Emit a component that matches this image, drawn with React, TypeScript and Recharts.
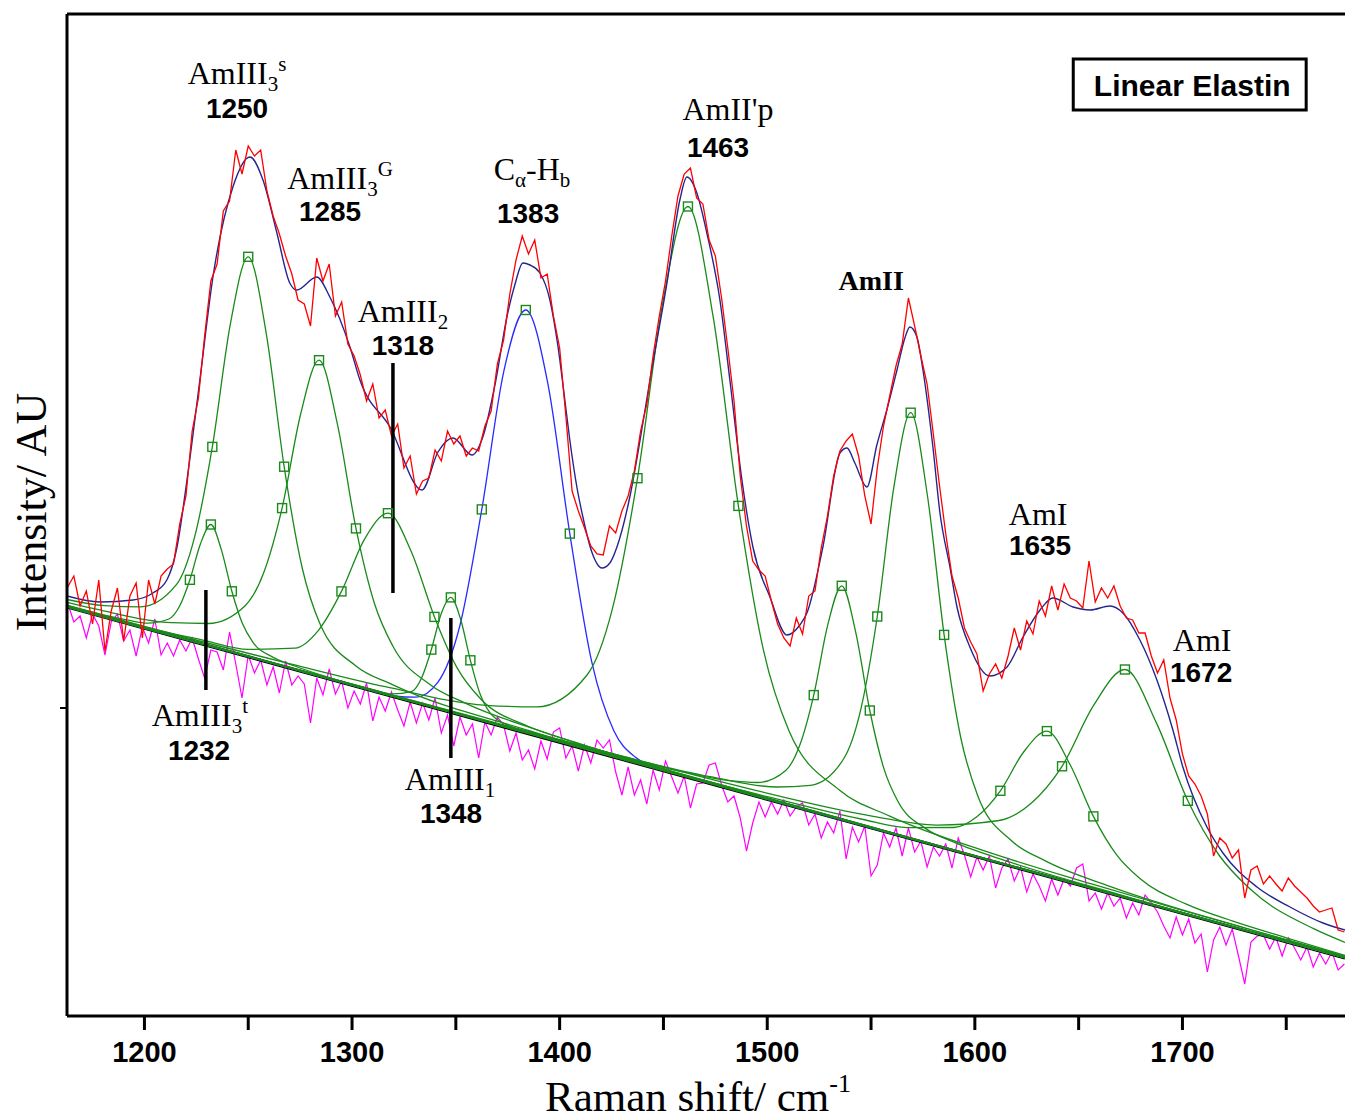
import React from 'react';
import {
  ComposedChart,
  Line,
  Scatter,
  XAxis,
  YAxis,
  ReferenceLine,
  ReferenceDot,
  ReferenceArea,
} from 'recharts';

// ---------- axes ----------
const X_DOMAIN: [number, number] = [1162.7, 1778.3];
const Y_DOMAIN: [number, number] = [0, 1002];
const X_TICKS = [1200, 1250, 1300, 1350, 1400, 1450, 1500, 1550, 1600, 1650, 1700, 1750];
const Y_TICKS = [308];

// ---------- series (x = Raman shift cm-1, y = intensity AU) ----------
const baseline = [[1162.7, 409], [1778.3, 58]];

const comp1232 = [[1162.7,410.3],[1191.6,396.1],[1201.7,392.9],[1211.8,397],[1216.9,409.7],[1221.9,436.2],[1227,472.3],[1232,491.5],[1237,466.6],[1242.1,424.7],[1247.2,392.4],[1252.2,373.9],[1262.3,358.4],[1272.4,350],[1312.8,324.3],[1400,273.8],[1500,216.6],[1600,159.6],[1700,102.7],[1778.3,58.1]];
const comp1250 = [[1162.7,416.5],[1180.8,410.4],[1198.1,409.2],[1215.4,431.3],[1224,477.6],[1232.7,569.1],[1241.4,692.1],[1250,759.2],[1258.7,682.2],[1267.3,549.3],[1276,448],[1284.6,391.9],[1301.9,350],[1319.2,331.6],[1388.4,283.4],[1500,217.5],[1600,160.2],[1700,103.1],[1778.3,58.3]];
const comp1285 = [[1162.7,413.7],[1177.3,406.6],[1212.9,393.3],[1230.7,392.5],[1248.5,410.3],[1257.4,443],[1266.3,507.9],[1275.2,601.5],[1284.1,655.8],[1293,591.4],[1301.9,487.6],[1310.8,412.5],[1319.7,369.7],[1337.5,331.6],[1355.3,312.2],[1390.9,284.9],[1500,218.2],[1600,160.4],[1700,103.2],[1778.3,58.4]];
const comp1318 = [[1162.7,410.5],[1200,388.9],[1227.7,376.2],[1250.1,366.6],[1272.5,367.8],[1283.7,385.4],[1294.9,424.6],[1306.1,477.2],[1317.3,502.8],[1328.5,464.5],[1339.7,399.1],[1350.9,347.1],[1362.1,316.7],[1384.5,290],[1406.9,274.1],[1500,217.8],[1600,160.2],[1700,103.1],[1778.3,58.3]];
const comp1348 = [[1162.7,409],[1200,387.7],[1250,359.3],[1272.4,346.8],[1310,326.4],[1319.4,322.1],[1328.8,324.7],[1333.5,338],[1338.2,366.4],[1342.9,402],[1347.6,418.6],[1352.3,396.7],[1357,355.7],[1361.7,321.9],[1366.4,303.3],[1375.8,290],[1385.2,283.6],[1422.8,261.1],[1500,216.8],[1600,159.7],[1700,102.7],[1778.3,58.1]];
const comp1383 = [[1162.7,409],[1200,387.7],[1250,359.2],[1300,330.7],[1310,325],[1320.1,320],[1330.7,318.8],[1341.3,333.6],[1351.9,390],[1362.5,506.6],[1373.1,644.7],[1383.7,706],[1394.3,632.6],[1404.9,482.4],[1415.5,353.8],[1426.1,285.2],[1436.7,258.4],[1447.3,247.5],[1458,241.5],[1470,234.6],[1500,216.7],[1600,159.7],[1700,102.7],[1778.3,58.1]];
const comp1463 = [[1162.7,410.9],[1200,389.5],[1267.4,353.7],[1316,329.3],[1364.6,310.7],[1388.9,309.1],[1413.2,341],[1425.4,407.1],[1437.5,537.8],[1449.7,713.6],[1461.8,809.5],[1473.9,699.8],[1486.1,510.1],[1498.2,365.6],[1510.4,285.6],[1534.7,226],[1559,199.9],[1607.6,163.1],[1656.2,132.1],[1700,105.5],[1778.3,59.8]];
const comp1535 = [[1162.7,409.2],[1250,359.4],[1350,302.5],[1400.9,274.6],[1454.9,246.2],[1481.9,235.3],[1495.4,233.5],[1508.9,245.5],[1515.65,270.7],[1522.4,320.9],[1529.15,391.1],[1535.9,430.2],[1542.65,383.4],[1549.4,305.5],[1556.15,247.6],[1562.9,214.7],[1576.4,187.4],[1589.9,173.8],[1616.9,153.9],[1670.9,120.7],[1720,91.6],[1778.3,58.5]];
const comp1569 = [[1162.7,409.4],[1250,359.6],[1350,302.7],[1408.1,271.6],[1472.5,239.3],[1504.7,229],[1520.8,230.7],[1536.9,257.5],[1544.95,305.6],[1553,399.5],[1561.05,529.7],[1569.1,603.3],[1577.15,520.5],[1585.2,381.1],[1593.25,278],[1601.3,220.8],[1617.4,175.7],[1633.5,155.6],[1665.7,129.2],[1730.1,88],[1778.3,59.6]];
const comp1635 = [[1162.7,409.2],[1250,359.4],[1350,302.4],[1430,257.2],[1500,219.4],[1545.1,197],[1567.5,188.4],[1589.9,188.5],[1601.1,199.5],[1612.3,225.2],[1623.5,264],[1634.7,284.9],[1645.9,251.2],[1657.1,199.6],[1668.3,161.1],[1679.5,137.4],[1701.9,111.8],[1724.3,94.8],[1750,78.2],[1778.3,60.5]];
const comp1672 = [[1162.7,409.7],[1250,360],[1369.3,293.2],[1430,259.8],[1490.5,227.6],[1551.1,199.7],[1581.4,190.9],[1611.7,195.5],[1626.85,212.3],[1642,249.7],[1657.15,310.4],[1672.3,346.5],[1687.45,293.1],[1702.6,215.2],[1717.75,160.5],[1732.9,126.4],[1763.2,87.3],[1778.3,73.6]];

const markers = [
  [1221.9,436.2],[1232,491.5],[1242.1,424.7],
  [1232.7,569.1],[1250,759.2],[1267.3,549.3],
  [1266.3,507.9],[1284.1,655.8],[1301.9,487.6],
  [1294.9,424.6],[1317.3,502.8],[1339.7,399.1],
  [1338.2,366.4],[1347.6,418.6],[1357,355.7],
  [1362.5,506.6],[1383.7,706],[1404.9,482.4],
  [1437.5,537.8],[1461.8,809.5],[1486.1,510.1],
  [1522.4,320.9],[1535.9,430.2],[1549.4,305.5],
  [1553,399.5],[1569.1,603.3],[1585.2,381.1],
  [1612.3,225.2],[1634.7,284.9],[1657.1,199.6],
  [1642,249.7],[1672.3,346.5],[1702.6,215.2],
];

const fitSum = [[1162.7,420],[1178.6,414],[1194.5,416],[1204.1,423],[1210.8,436],[1215.7,469],[1220.5,536],[1226.7,636],[1233,739],[1242.6,829],[1250.8,859],[1257.1,836],[1263.8,783],[1270,733],[1273.4,726],[1283,739],[1289.3,719],[1299,669],[1303.8,636],[1318.3,589],[1333.7,526],[1341.4,564],[1348.6,578],[1357.8,561],[1363,579],[1369.3,636],[1374.6,699],[1378.4,731],[1382.3,753],[1385.7,751],[1390.5,743],[1395.3,716],[1399.1,671],[1402.5,616],[1404.9,576],[1408.3,529],[1411.2,499],[1415.5,464],[1420.4,448],[1424.2,453],[1427.6,469],[1433.8,519],[1440.1,593],[1443.5,636],[1451.7,733],[1457.9,816],[1461.3,839],[1466.1,823],[1470.9,783],[1477.2,716],[1482,636],[1487.8,536],[1493.1,469],[1501.3,419],[1509.5,381],[1515.7,391],[1519.1,403],[1526.8,469],[1535,563],[1538.4,568],[1542.2,553],[1548,529],[1552.8,571],[1557.6,606],[1562.5,646],[1566.3,678],[1568.7,689],[1572.1,679],[1575,646],[1579.8,569],[1583.2,503],[1588,449],[1591.4,409],[1597.6,369],[1607.2,340],[1615.5,349],[1623.2,379],[1631.4,406],[1637.6,418],[1647.3,409],[1655.5,406],[1665.1,410],[1671.3,403],[1679.5,376],[1687.7,336],[1695.4,286],[1700.2,249],[1711.8,189],[1719.5,163],[1735.9,129],[1751.8,109],[1767.7,93],[1778.3,86]];

const measured = [[1163,429],[1166,440],[1169,410],[1172,425],[1175,392],[1178,436],[1181,365],[1184,405],[1187,428],[1190,375],[1193,420],[1196,433],[1199,378],[1202,436],[1205,412],[1208,440],[1211,447],[1214,452],[1217,492],[1220,520],[1223,585],[1226,618],[1229,680],[1232,735],[1235,752],[1238,805],[1241,815],[1244,866],[1247,842],[1250,870],[1253,860],[1256,866],[1259,825],[1262,800],[1265,782],[1268,760],[1271,742],[1274,716],[1277,712],[1280,690],[1283,758],[1286,735],[1289,752],[1292,700],[1295,714],[1298,672],[1301,660],[1304,641],[1307,615],[1310,632],[1313,598],[1316,606],[1319,580],[1322,592],[1325,548],[1328,560],[1331,522],[1334,535],[1337,538],[1340,566],[1343,555],[1346,585],[1349,572],[1352,580],[1355,560],[1358,568],[1361,565],[1364,590],[1367,605],[1370,652],[1373,676],[1376,722],[1379,756],[1382,780],[1385,762],[1388,776],[1391,738],[1394,742],[1397,700],[1400,668],[1403,600],[1406,525],[1409,505],[1412,488],[1415,470],[1418,462],[1421,461],[1424,490],[1427,483],[1430,505],[1433,520],[1436,545],[1439,585],[1442,612],[1445,660],[1448,700],[1451,735],[1454,780],[1457,820],[1460,842],[1463,848],[1466,818],[1469,812],[1472,776],[1475,760],[1478,718],[1481,668],[1484,615],[1487,540],[1490,490],[1493,455],[1496,446],[1499,440],[1502,415],[1505,392],[1508,378],[1511,370],[1514,398],[1517,382],[1520,420],[1523,425],[1526,468],[1529,500],[1532,540],[1535,565],[1538,575],[1541,582],[1544,560],[1547,520],[1550,492],[1553,548],[1556,590],[1559,620],[1562,650],[1565,672],[1568,718],[1571,690],[1574,660],[1577,632],[1580,582],[1583,530],[1586,482],[1589,440],[1592,418],[1595,388],[1598,374],[1601,362],[1604,325],[1607,342],[1610,352],[1613,338],[1616,360],[1619,388],[1622,366],[1625,395],[1628,382],[1631,415],[1634,400],[1637,430],[1640,406],[1643,432],[1646,418],[1649,415],[1652,408],[1655,455],[1658,414],[1661,428],[1664,418],[1667,430],[1670,410],[1673,398],[1676,396],[1679,383],[1682,383],[1685,360],[1688,343],[1691,356],[1694,318],[1697,296],[1700,262],[1703,240],[1706,232],[1709,220],[1712,202],[1715,160],[1718,178],[1721,172],[1724,158],[1727,166],[1730,118],[1733,146],[1736,150],[1739,132],[1742,140],[1745,132],[1748,125],[1751,138],[1754,130],[1757,124],[1760,118],[1763,110],[1766,104],[1769,106],[1772,108],[1775,86],[1778,84]];

const residual = [[1163,413],[1166,394],[1169,400],[1172,378],[1175,402],[1178,390],[1181,361],[1184,394],[1187,402],[1190,375],[1193,386],[1196,360],[1199,389],[1202,373],[1205,397],[1208,361],[1211,373],[1214,360],[1217,376],[1220,365],[1223,378],[1226,357],[1229,338],[1232,366],[1235,364],[1238,346],[1241,384],[1244,352],[1247,318],[1250,361],[1253,343],[1256,356],[1259,331],[1262,349],[1265,323],[1268,355],[1271,331],[1274,340],[1277,332],[1280,293],[1283,338],[1286,321],[1289,347],[1292,322],[1295,335],[1298,308],[1301,325],[1304,312],[1307,333],[1310,295],[1313,319],[1316,305],[1319,324],[1322,306],[1325,290],[1328,314],[1331,293],[1334,313],[1337,296],[1340,318],[1343,283],[1346,301],[1349,270],[1352,299],[1355,281],[1358,292],[1361,258],[1364,294],[1367,281],[1370,299],[1373,291],[1376,265],[1379,283],[1382,256],[1385,266],[1388,247],[1391,275],[1394,257],[1397,284],[1400,288],[1403,258],[1406,270],[1409,245],[1412,271],[1415,253],[1418,276],[1421,268],[1424,276],[1427,244],[1430,221],[1433,249],[1436,221],[1439,236],[1442,212],[1445,246],[1448,226],[1451,255],[1454,239],[1457,223],[1460,240],[1463,208],[1466,232],[1469,233],[1472,251],[1475,253],[1478,231],[1481,214],[1484,220],[1487,198],[1490,165],[1493,193],[1496,214],[1499,199],[1502,214],[1505,202],[1508,216],[1511,200],[1514,209],[1517,213],[1520,191],[1523,202],[1526,178],[1529,194],[1532,183],[1535,205],[1538,157],[1541,189],[1544,174],[1547,190],[1550,140],[1553,151],[1556,183],[1559,169],[1562,188],[1565,160],[1568,188],[1571,164],[1574,175],[1577,149],[1580,169],[1583,160],[1586,172],[1589,148],[1592,178],[1595,161],[1598,139],[1601,159],[1604,146],[1607,160],[1610,128],[1613,148],[1616,157],[1619,135],[1622,149],[1625,124],[1628,142],[1631,130],[1634,115],[1637,137],[1640,121],[1643,137],[1646,130],[1649,148],[1652,152],[1655,115],[1658,123],[1661,107],[1664,123],[1667,110],[1670,118],[1673,98],[1676,113],[1679,101],[1682,121],[1685,113],[1688,104],[1691,90],[1694,78],[1697,99],[1700,81],[1703,97],[1706,73],[1709,82],[1712,44],[1715,76],[1718,89],[1721,71],[1724,87],[1727,60],[1730,32],[1733,74],[1736,80],[1739,81],[1742,67],[1745,79],[1748,60],[1751,78],[1754,68],[1757,56],[1760,69],[1763,49],[1766,63],[1769,52],[1772,64],[1775,46],[1778,52]];

// peak marker bars: [x, yBottom, yTop]
const peakBars = [[1229.6, 326, 426], [1319.7, 423, 653], [1347.6, 258, 398]];

// annotation texts
type Part = [string, 'n' | 'sub' | 'sup'];
const nameLabels: { x: number; y: number; parts: Part[]; bold?: boolean; size?: number }[] = [
  { x: 1244.6, y: 932, parts: [['AmIII', 'n'], ['3', 'sub'], ['s', 'sup']] },
  { x: 1294.2, y: 827, parts: [['AmIII', 'n'], ['3', 'sub'], ['G', 'sup']] },
  { x: 1324.5, y: 694, parts: [['AmIII', 'n'], ['2', 'sub']] },
  { x: 1386.7, y: 836, parts: [['C', 'n'], ['α', 'sub'], ['-H', 'n'], ['b', 'sub']] },
  { x: 1481.1, y: 896, parts: [["AmII'p", 'n']] },
  { x: 1550.1, y: 726, parts: [['AmII', 'n']], bold: true, size: 28 },
  { x: 1630.5, y: 491, parts: [['AmI', 'n']] },
  { x: 1709.5, y: 365, parts: [['AmI', 'n']] },
  { x: 1226.7, y: 290, parts: [['AmIII', 'n'], ['3', 'sub'], ['t', 'sup']] },
  { x: 1347.2, y: 226, parts: [['AmIII', 'n'], ['1', 'sub']] },
];
const numberLabels: { x: number; y: number; text: string }[] = [
  { x: 1244.6, y: 898, text: '1250' },
  { x: 1289.4, y: 795, text: '1285' },
  { x: 1324.5, y: 661, text: '1318' },
  { x: 1384.8, y: 793, text: '1383' },
  { x: 1476.3, y: 859, text: '1463' },
  { x: 1631.4, y: 461, text: '1635' },
  { x: 1709.0, y: 334, text: '1672' },
  { x: 1226.3, y: 256, text: '1232' },
  { x: 1347.7, y: 193, text: '1348' },
];
const legendBox = { x1: 1647.4, x2: 1759.6, y1: 906, y2: 957, tx: 1704.7, ty: 920, text: 'Linear Elastin' };

// ---------- styles ----------
const SERIF = '"Liberation Serif", "Times New Roman", Times, serif';
const SANS = '"Liberation Sans", Arial, Helvetica, sans-serif';
const GREEN = '#1a8a1a';
const pts = (a: number[][]) => a.map(([x, y]) => ({ x, y }));

const greenComps = [comp1232, comp1250, comp1285, comp1318, comp1348, comp1463, comp1535, comp1569, comp1635, comp1672];

const renderName = (lab: (typeof nameLabels)[number]) => (p: any) => {
  const size = lab.size ?? 32;
  const offs = { n: 0, sub: 7, sup: -13 };
  let cur = 0;
  return (
    <text
      x={p.cx}
      y={p.cy}
      textAnchor="middle"
      fontFamily={SERIF}
      fontSize={size}
      fontWeight={lab.bold ? 700 : 400}
      fill="#000"
    >
      {lab.parts.map(([t, k], i) => {
        const dy = offs[k] - cur;
        cur = offs[k];
        return (
          <tspan key={i} dy={dy} fontSize={k === 'n' ? size : 21}>
            {t}
          </tspan>
        );
      })}
    </text>
  );
};

const renderNum = (text: string) => (p: any) => (
  <text x={p.cx} y={p.cy} textAnchor="middle" fontFamily={SANS} fontWeight={700} fontSize={28} fill="#000">
    {text}
  </text>
);

const renderBoxText = (text: string) => (p: any) => (
  <text x={p.cx} y={p.cy} textAnchor="middle" fontFamily={SANS} fontWeight={700} fontSize={30} fill="#000">
    {text}
  </text>
);

const square = (p: any) => (
  <rect x={p.cx - 4.5} y={p.cy - 4.5} width={9} height={9} fill="none" stroke={GREEN} strokeWidth={1.4} />
);

const XTitle = () => (
  <text x={545} y={1111} fontFamily={SERIF} fontSize={43} fill="#000">
    Raman shift/ cm
    <tspan dy={-19} fontSize={26}>-1</tspan>
  </text>
);

const YTitle = () => (
  <text
    x={46}
    y={512}
    transform="rotate(-90 46 512)"
    textAnchor="middle"
    fontFamily={SERIF}
    fontSize={44}
    fill="#000"
  >
    Intensity/ AU
  </text>
);

export default function App() {
  return (
    <div
      style={{
        position: 'absolute',
        left: 0,
        top: 0,
        width: 1345,
        height: 1119,
        background: '#fff',
        overflow: 'hidden',
      }}
    >
      <ComposedChart width={1345} height={1119} margin={{ top: 14, right: 0, bottom: 0, left: 0 }}>
        <XAxis
          type="number"
          dataKey="x"
          domain={X_DOMAIN}
          allowDataOverflow
          ticks={X_TICKS}
          interval={0}
          height={103}
          tickSize={14}
          tickMargin={11}
          axisLine={{ stroke: '#000', strokeWidth: 3 }}
          tickLine={{ stroke: '#000', strokeWidth: 3 }}
          tick={{ fontFamily: SANS, fontWeight: 700, fontSize: 29, fill: '#000' }}
          tickFormatter={(v: number) => (v % 100 === 0 ? String(v) : '')}
          label={{ content: XTitle }}
        />
        <YAxis
          type="number"
          dataKey="y"
          domain={Y_DOMAIN}
          allowDataOverflow
          ticks={Y_TICKS}
          width={67}
          tickSize={7}
          axisLine={{ stroke: '#000', strokeWidth: 3 }}
          tickLine={{ stroke: '#000', strokeWidth: 2 }}
          tickFormatter={() => ''}
          label={{ content: YTitle }}
        />

        <ReferenceLine y={1002} stroke="#000" strokeWidth={3} />

        <Line data={pts(residual)} dataKey="y" type="linear" stroke="#ff00ff" strokeWidth={1.2} dot={false} activeDot={false} isAnimationActive={false} />
        <Line data={pts(baseline)} dataKey="y" type="linear" stroke="#000" strokeWidth={3} dot={false} activeDot={false} isAnimationActive={false} />
        <Line data={pts(comp1383)} dataKey="y" type="monotone" stroke="#2a2aff" strokeWidth={1.3} dot={false} activeDot={false} isAnimationActive={false} />
        {greenComps.map((c, i) => (
          <Line key={i} data={pts(c)} dataKey="y" type="monotone" stroke={GREEN} strokeWidth={1.3} dot={false} activeDot={false} isAnimationActive={false} />
        ))}
        <Scatter data={pts(markers)} dataKey="y" shape={square} isAnimationActive={false} />
        <Line data={pts(fitSum)} dataKey="y" type="monotone" stroke="#25258f" strokeWidth={1.4} dot={false} activeDot={false} isAnimationActive={false} />
        <Line data={pts(measured)} dataKey="y" type="linear" stroke="#ff0000" strokeWidth={1.3} dot={false} activeDot={false} isAnimationActive={false} />

        {peakBars.map(([x, y0, y1], i) => (
          <ReferenceLine key={'pb' + i} segment={[{ x, y: y0 }, { x, y: y1 }]} stroke="#000" strokeWidth={3.5} />
        ))}

        {nameLabels.map((lab, i) => (
          <ReferenceDot key={'nl' + i} x={lab.x} y={lab.y} r={0} shape={renderName(lab)} />
        ))}
        {numberLabels.map((lab, i) => (
          <ReferenceDot key={'nb' + i} x={lab.x} y={lab.y} r={0} shape={renderNum(lab.text)} />
        ))}

        <ReferenceArea
          x1={legendBox.x1}
          x2={legendBox.x2}
          y1={legendBox.y1}
          y2={legendBox.y2}
          fill="#fff"
          fillOpacity={1}
          stroke="#000"
          strokeWidth={3}
        />
        <ReferenceDot x={legendBox.tx} y={legendBox.ty} r={0} shape={renderBoxText(legendBox.text)} />
      </ComposedChart>
    </div>
  );
}
